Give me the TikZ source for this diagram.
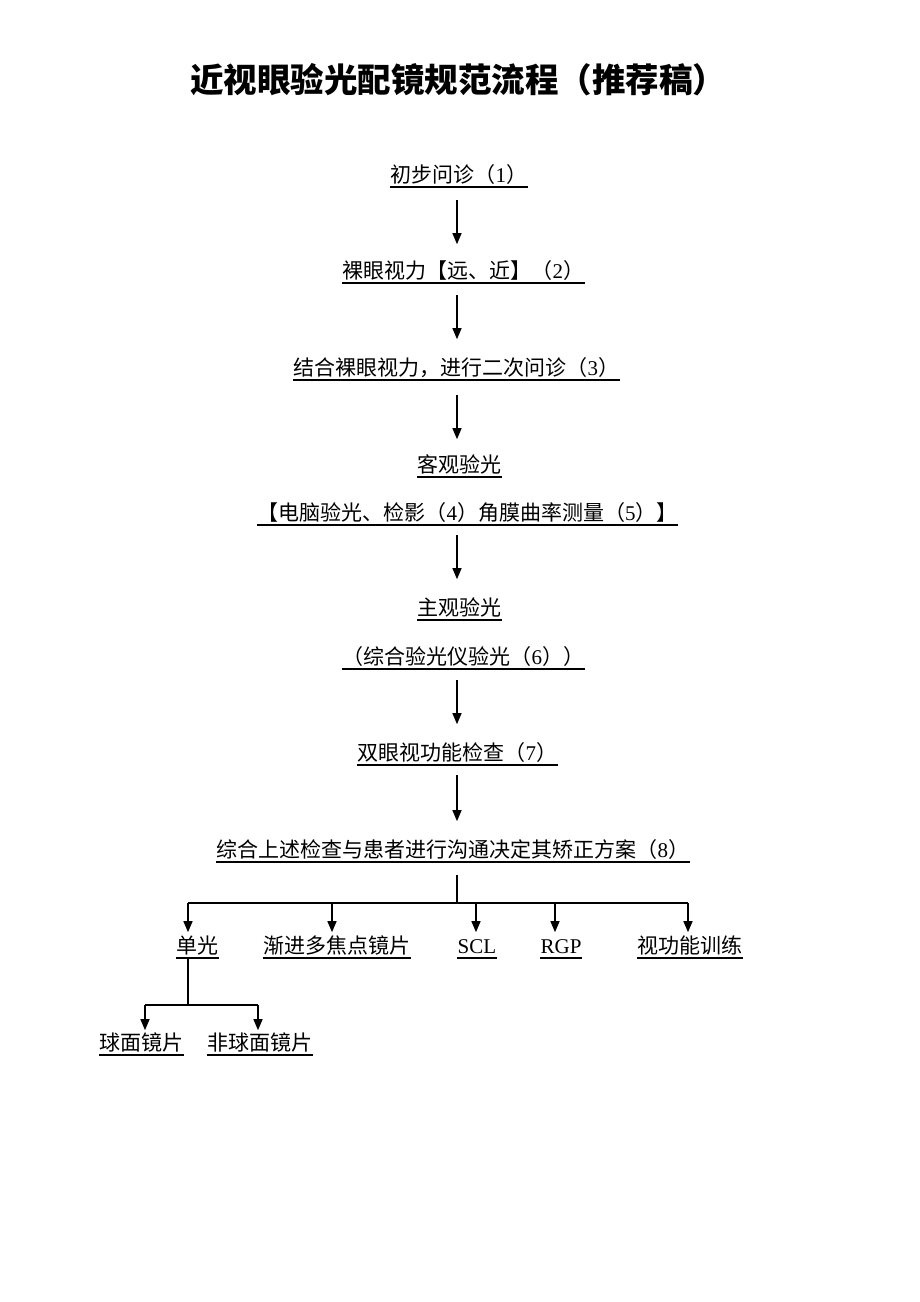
\documentclass[tikz,border=0pt]{standalone}
\usepackage{fontspec}
\setmainfont{Noto Sans CJK SC}
\newfontfamily\latin{Liberation Serif}
\usetikzlibrary{arrows.meta}

\tikzset{
  ul/.style={anchor=south west, inner sep=0pt, text height=19pt, text depth=3.5pt,
    font=\fontsize{21}{24}\selectfont},
  flow/.style={->},
  >={Triangle[length=11pt,width=9pt]},
}

\begin{document}
\begin{tikzpicture}[x=1pt, y=-1pt, line width=1.3pt]
\useasboundingbox (0,0) rectangle (920,1302);

\node (title) at (458,80) {\fontsize{33.5}{40}\selectfont\bfseries 近视眼验光配镜规范流程（推荐稿）};

% main chain
\node[ul] (chuzhen)   at (390,187) {初步问诊（{\latin 1}）\ };
\node[ul] (luoyan)    at (342,283) {裸眼视力【远、近】（{\latin 2}）\ };
\node[ul] (erci)      at (293,380) {结合裸眼视力，进行二次问诊（{\latin 3}）\ };
\node[ul] (keguan)    at (417,477) {客观验光};
\node[ul] (diannao)   at (257,525) {【电脑验光、检影（{\latin 4}）角膜曲率测量（{\latin 5}）】};
\node[ul] (zhuguan)   at (417,620) {主观验光};
\node[ul] (zonghe)    at (342,669) {（综合验光仪验光（{\latin 6}））\ };
\node[ul] (shuangyan) at (357,765) {双眼视功能检查（{\latin 7}）\ };
\node[ul] (fangan)    at (216,862) {综合上述检查与患者进行沟通决定其矫正方案（{\latin 8}）\ };

% options
\node[ul] (danguang) at (176,958) {单光};
\node[ul] (jianjin)  at (263,958) {渐进多焦点镜片};
\node[ul] (scl)      at (457,958) {\latin SCL};
\node[ul] (rgp)      at (540,958) {\latin RGP\ };
\node[ul] (xunlian)  at (637,958) {视功能训练};

\node[ul] (qiumian) at (99,1055)  {球面镜片};
\node[ul] (feiqiu)  at (207,1055) {非球面镜片};

\foreach \n in {chuzhen,luoyan,erci,keguan,diannao,zhuguan,zonghe,shuangyan,fangan,
                danguang,jianjin,scl,rgp,xunlian,qiumian,feiqiu}
  \draw (\n.south west) -- (\n.south east);

\coordinate (spine) at (457,0);
\draw[flow] ([yshift=-13pt]chuzhen.south -| spine)   -- ([yshift=15pt]luoyan.north -| spine);
\draw[flow] ([yshift=-12pt]luoyan.south -| spine)    -- ([yshift=17pt]erci.north -| spine);
\draw[flow] ([yshift=-15pt]erci.south -| spine)      -- ([yshift=14pt]keguan.north -| spine);
\draw[flow] ([yshift=-10pt]diannao.south -| spine)   -- ([yshift=17pt]zhuguan.north -| spine);
\draw[flow] ([yshift=-11pt]zonghe.south -| spine)    -- ([yshift=17pt]shuangyan.north -| spine);
\draw[flow] ([yshift=-10pt]shuangyan.south -| spine) -- ([yshift=17pt]fangan.north -| spine);

% branch to options
\coordinate (fork) at (457,903);
\coordinate (bDan) at (188,903);
\coordinate (bJian) at (332,903);
\coordinate (bScl) at (476,903);
\coordinate (bRgp) at (555,903);
\coordinate (bXun) at (688,903);
\draw ([yshift=-13pt]fangan.south -| fork) -- (fork);
\draw (bDan) -- (bXun);
\draw[flow] (bDan)  -- ([yshift=2pt]danguang.north -| bDan);
\draw[flow] (bJian) -- ([yshift=2pt]jianjin.north -| bJian);
\draw[flow] (bScl)  -- ([yshift=2pt]scl.north -| bScl);
\draw[flow] (bRgp)  -- ([yshift=2pt]rgp.north -| bRgp);
\draw[flow] (bXun)  -- ([yshift=2pt]xunlian.north -| bXun);

% single vision split
\coordinate (sub) at (188,1005);
\coordinate (bQiu) at (145,1005);
\coordinate (bFei) at (258,1005);
\draw (danguang.south -| sub) -- (sub);
\draw (bQiu) -- (bFei);
\draw[flow] (bQiu) -- ([yshift=1pt]qiumian.north -| bQiu);
\draw[flow] (bFei) -- ([yshift=1pt]feiqiu.north -| bFei);

\end{tikzpicture}
\end{document}
